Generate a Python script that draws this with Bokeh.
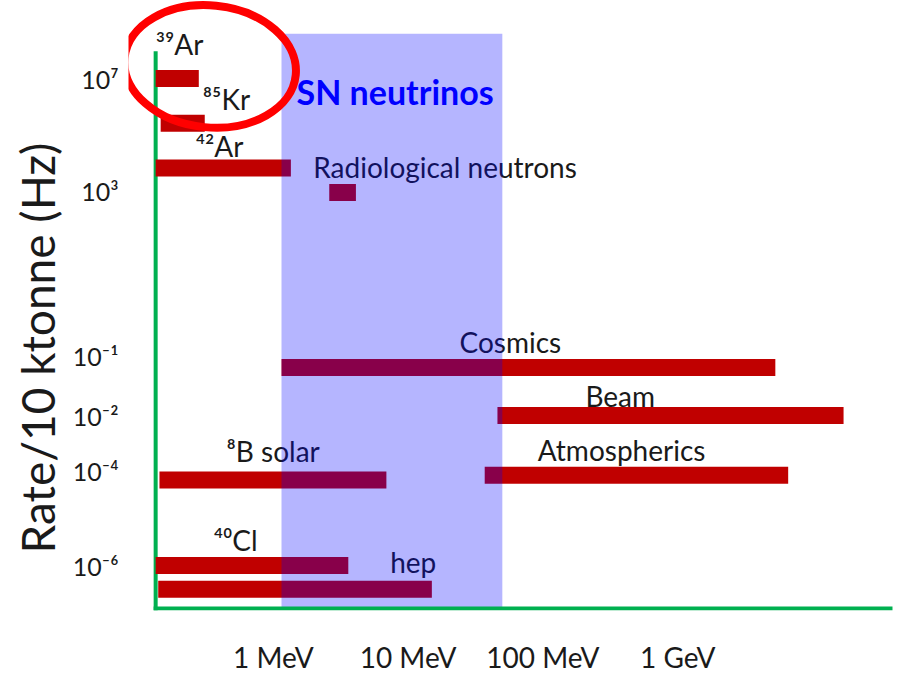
import numpy as np
from bokeh.plotting import figure
from bokeh.models import Range1d, FixedTicker, CustomJSTickFormatter, Title, ColumnDataSource
from bokeh.core.properties import value
from bokeh.embed import file_html
from bokeh.resources import INLINE

# ---------------- data ----------------
sources = ["³⁹Ar", "⁸⁵Kr", "⁴²Ar", "Radiological neutrons", "Cosmics",
           "Beam", "Atmospherics", "⁸B solar", "⁴⁰Cl", "hep"]
e_low_mev = [0.134, 0.146, 0.134, 2.6, 1.15, 46, 37, 0.143, 0.134, 0.14]
e_high_mev = [0.28, 0.31, 1.35, 4.1, 5300, 17000, 6600, 6.9, 3.6, 15]
log10_rate_hz = [7.0, 5.4, 3.8, 2.95, -1.2, -2.0, -4.1, -4.2, -6.0, -6.5]

sn_band_mev = [1.15, 50.0]          # SN neutrino energy window
x_tick_mev = [1, 10, 100, 1000]
x_tick_labels = ["1 MeV", "10 MeV", "100 MeV", "1 GeV"]
y_tick_exp = [7, 3, -1, -2, -4, -6]
y_tick_labels = ["10⁷", "10³", "10⁻¹", "10⁻²", "10⁻⁴", "10⁻⁶"]

# ---------------- layout / style ----------------
# The rate axis of the original sketch is schematic (decades unevenly spaced);
# these knots describe where each decade sits along the vertical axis.
AXIS_EXP = [9.0, 7.0, 3.0, -1.0, -2.0, -4.0, -6.0, -7.0]
AXIS_POS = [586, 530, 418, 253, 193, 138, 43, -4.5]


def ypos(e):
    return np.interp(-np.asarray(e, dtype=float), -np.array(AXIS_EXP), AXIS_POS)


X_AXIS_MIN_MEV, X_AXIS_MAX_MEV = 0.134, 37900
AXIS_TOP_EXP, BAND_TOP_EXP = 7.9, 8.6
BASE = 0.0

label_dx = [0, 42, 40, -16, 178, 88, 53, 67, 58, 232]
label_dy = [-35, -24, -22, -26, -26, -20, -25, -29, -26, -27]

BAR_RED = "#c00000"
GREEN = "#00b050"
TEXT = "#1a1a1a"
FONT = "Lato"

p = figure(width=904, height=678, x_axis_type="log",
           x_range=Range1d(0.08427, 48140), y_range=Range1d(-2, 608),
           output_backend="svg", toolbar_location=None,
           min_border_left=128, min_border_right=0, min_border_top=0,
           min_border_bottom=68)
p.outline_line_color = None
p.xgrid.visible = False
p.ygrid.visible = False

# axes: labels only
for ax in (p.xaxis[0], p.yaxis[0]):
    ax.axis_line_color = None
    ax.major_tick_line_color = None
    ax.minor_tick_line_color = None
    ax.major_label_text_font = FONT
    ax.major_label_text_color = TEXT

p.xaxis.ticker = FixedTicker(ticks=x_tick_mev, minor_ticks=[])
p.xaxis.formatter = CustomJSTickFormatter(
    args=dict(pos=x_tick_mev, labels=x_tick_labels),
    code="const i = pos.findIndex(v => Math.abs(v - tick) < 1e-6 * v); return i >= 0 ? labels[i] : '';")
p.xaxis.major_label_text_font_size = "28px"
p.xaxis.major_label_standoff = 23

y_tick_pos = [float(v) for v in ypos(y_tick_exp)]
p.yaxis.ticker = FixedTicker(ticks=sorted(y_tick_pos), minor_ticks=[])
p.yaxis.formatter = CustomJSTickFormatter(
    args=dict(pos=y_tick_pos, labels=y_tick_labels),
    code="const i = pos.findIndex(v => Math.abs(v - tick) < 1e-6); return i >= 0 ? labels[i] : '';")
p.yaxis.major_label_text_font_size = "25px"
p.yaxis.major_label_standoff = 4

# vertical axis line (drawn under the bars)
p.segment(x0=[X_AXIS_MIN_MEV], x1=[X_AXIS_MIN_MEV], y0=[BASE], y1=[float(ypos(AXIS_TOP_EXP))],
          line_color=GREEN, line_width=4, line_cap="square")

src = ColumnDataSource(dict(
    name=sources, left=e_low_mev, right=e_high_mev,
    y=ypos(log10_rate_hz), dx=label_dx, dy=label_dy))

p.hbar(y="y", left="left", right="right", height=17, source=src,
       fill_color=BAR_RED, line_color=None)

p.text(x="left", y="y", text="name", x_offset="dx", y_offset="dy", source=src,
       text_font=value(FONT), text_font_size="28px", text_color=TEXT,
       text_align="left", text_baseline="middle")

# SN neutrino window (translucent overlay)
p.quad(left=[sn_band_mev[0]], right=[sn_band_mev[1]], bottom=[BASE],
       top=[float(ypos(BAND_TOP_EXP))], fill_color="#0000ff", fill_alpha=0.29,
       line_color=None)
p.text(x=[sn_band_mev[0]], y=[float(ypos(BAND_TOP_EXP))], text=["SN neutrinos"],
       x_offset=15, y_offset=58, text_font=value(FONT), text_font_style="bold",
       text_font_size="34px", text_color="#0000ff", text_align="left",
       text_baseline="middle")

# horizontal axis line
p.segment(x0=[X_AXIS_MIN_MEV], x1=[X_AXIS_MAX_MEV], y0=[BASE], y1=[BASE],
          line_color=GREEN, line_width=4, line_cap="square")

# red highlight ring around the 39Ar / 85Kr entries
p.ellipse(x=[0.34], y=[float(ypos(7.43))], width=172, height=122,
          width_units="screen", height_units="screen", angle=-0.1,
          fill_color=None, line_color="#ff0000", line_width=8)

# axis title (left side, shifted up along the axis)
p.add_layout(Title(text="Rate/10 ktonne (Hz)", align="left", offset=57,
                   text_font=FONT, text_font_size="46px", text_font_style="normal",
                   text_color=TEXT), "left")

open("out.html", "w").write(file_html(p, INLINE))
